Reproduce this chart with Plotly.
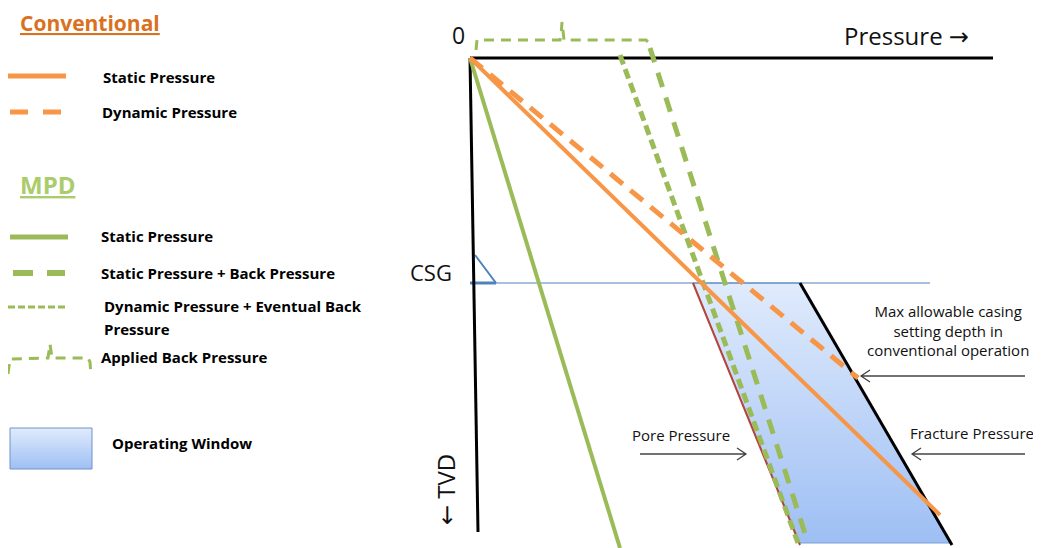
import plotly.graph_objects as go

# ---------------- data (pressure units vs. TVD units; origin = surface) ----------------
depth_csg = 225          # casing shoe depth
depth_td = 487           # total depth of the section
pore_pressure = [223, 330]        # at CSG, at TD
fracture_pressure = [330, 482]    # at CSG, at TD
conv_static = {"p": [0, 470], "d": [0, 457]}
conv_dynamic = {"p": [0, 388], "d": [0, 320]}
mpd_static = {"p": [0, 150], "d": [0, 490]}
mpd_static_bp = {"p": [150, 328], "d": [-3, 485]}
mpd_dynamic_bp = {"p": [180, 338], "d": [-10, 485]}
applied_bp = {"p": [6, 7, 90, 91, 92, 93, 94, 176, 179, 181],
              "d": [-8, -18, -18, -22, -36, -22, -18, -18, -15, -10]}
x_axis_end = 523
y_axis_end = {"p": 8, "d": 474}
csg_line_end = 460

ORANGE = "#f79646"
GREEN = "#9bbb59"
BLUE = "#4f81bd"
TXT = "Open Sans"
OX, OY = 470, 58   # pixel position of the origin on the canvas
PAGE = 8           # default page margin of the html body
W, H = 1041, 548


def P(px, py):
    return px - OX, py - OY


fig = go.Figure()


def line(p, d, color, width, dash="solid"):
    fig.add_trace(go.Scatter(x=p, y=d, mode="lines",
                             line=dict(color=color, width=width, dash=dash),
                             hoverinfo="skip"))


GRAD = [[0, "#9ebff4"], [1, "#e0ebfc"]]

# operating window
fig.add_trace(go.Scatter(
    x=[pore_pressure[0], fracture_pressure[0], fracture_pressure[1] - 2, pore_pressure[1], pore_pressure[0]],
    y=[depth_csg, depth_csg, depth_td - 2, depth_td - 2, depth_csg],
    mode="lines", fill="toself",
    fillgradient=dict(type="vertical", colorscale=GRAD),
    line=dict(color="#7d9fd0", width=1), hoverinfo="skip"))

# casing line
line([0, csg_line_end], [depth_csg, depth_csg], BLUE, 1)
# casing shoe symbol
tx, ty = P(475, 255)
bx, by = P(496, 283)
line([tx, bx], [ty, by], BLUE, 2)
line([0, bx], [by, by], BLUE, 3)

# pore & fracture
line(pore_pressure, [depth_csg, depth_td], "#b5433a", 2)
line(fracture_pressure, [depth_csg, depth_td], "black", 3)

# axes
line([0, x_axis_end], [0, 0], "black", 3)
line([0, y_axis_end["p"]], [0, y_axis_end["d"]], "black", 3)

# pressure profiles
line(mpd_static["p"], mpd_static["d"], GREEN, 4)
line(mpd_static_bp["p"], mpd_static_bp["d"], GREEN, 5, "10px,5px")
line(mpd_dynamic_bp["p"], mpd_dynamic_bp["d"], GREEN, 5, "15px,11px")
line(applied_bp["p"], applied_bp["d"], GREEN, 3, "10px,7px")
line(conv_static["p"], conv_static["d"], ORANGE, 4)
line(conv_dynamic["p"], conv_dynamic["d"], ORANGE, 5, "16px,10px")

# ---------------- legend (drawn on the same canvas) ----------------
def lline(x0, x1, y, color, width, dash="solid"):
    a, b = P(x0, y)
    c, _ = P(x1, y)
    line([a, c], [b, b], color, width, dash)


lline(8, 66, 76, ORANGE, 5)
lline(10, 62, 112, ORANGE, 5, "18px,15px")
lline(10, 68, 237, GREEN, 5)
lline(13, 65, 273, GREEN, 6, "20px,14px")
lline(8, 68, 307, GREEN, 3, "7px,3px")
ab_px = [8, 10, 48, 50, 52, 88, 90, 91]
ab_py = [374, 359, 358, 344, 358, 358, 362, 376]
abx, aby = zip(*[P(a, b) for a, b in zip(ab_px, ab_py)])
line(list(abx), list(aby), GREEN, 3, "10px,7px")
wx0, wy0 = P(10, 428)
wx1, wy1 = P(92, 469)
fig.add_trace(go.Scatter(x=[wx0, wx1, wx1, wx0, wx0], y=[wy0, wy0, wy1, wy1, wy0],
                         mode="lines", fill="toself",
                         fillgradient=dict(type="vertical", colorscale=GRAD),
                         line=dict(color="#6f93c8", width=1), hoverinfo="skip"))

ann = []


def text(px, py, s, size, color="black", bold=False, xanchor="left", font=TXT, angle=0):
    x, y = P(px, py)
    ann.append(dict(x=x, y=y, xref="x", yref="y", text=("<b>%s</b>" % s) if bold else s,
                    showarrow=False, xanchor=xanchor, yanchor="middle", textangle=angle,
                    font=dict(family=font, size=size, color=color)))


ARR_R = "<span style=\"font-family:'DejaVu Sans'\">→</span>"
ARR_L = "<span style=\"font-family:'DejaVu Sans'\">←</span>"

text(18, 23, "<u>Conventional</u>", 21, "#d9711f", True)
text(101, 77, "Static Pressure", 15, bold=True)
text(100, 112, "Dynamic Pressure", 15, bold=True)
text(18, 184, "<u>MPD</u>", 24, "#a9cc6c", True)
text(99, 236, "Static Pressure", 15, bold=True)
text(99, 273, "Static Pressure + Back Pressure", 15, bold=True)
text(102, 306, "Dynamic Pressure + Eventual Back", 15, bold=True)
text(102, 329, "Pressure", 15, bold=True)
text(99, 357, "Applied Back Pressure", 15, bold=True)
text(110, 443, "Operating Window", 15, bold=True)

# chart labels
text(450, 35, "0", 23, "#111")
text(842, 35, "Pressure " + ARR_R, 24, "#111")
text(408, 272, "CSG", 22, "#111")
text(445, 490, ARR_L + " TVD", 24, "#111", angle=-90, xanchor="center")
x, y = P(948, 330)
ann.append(dict(x=x, y=y, xref="x", yref="y", showarrow=False, align="center",
                text="Max allowable casing<br>setting depth in<br>conventional operation",
                font=dict(family=TXT, size=15, color="#111"), xanchor="center", yanchor="middle"))
text(630, 435, "Pore Pressure", 15, "#111")
text(908, 433, "Fracture Pressure", 15, "#111")
fig.update_layout(annotations=ann)

# arrows (open chevron heads)
shapes = []


def arrow(x0, x1, py):
    a, y = P(x0, py)
    b, _ = P(x1, py)
    s = 1 if b > a else -1
    path = f"M {a} {y} L {b} {y} M {b - s * 9} {y - 6} L {b} {y} L {b - s * 9} {y + 6}"
    shapes.append(dict(type="path", path=path, xref="x", yref="y",
                       line=dict(color="#444", width=1.3)))


arrow(1025, 861, 376)
arrow(640, 746, 454)
arrow(1025, 912, 454)
fig.update_layout(shapes=shapes)

fig.update_layout(
    width=W - PAGE, height=H - PAGE, margin=dict(l=0, r=0, t=0, b=0),
    paper_bgcolor="white", plot_bgcolor="white", showlegend=False,
    xaxis=dict(range=[PAGE - OX, W - OX], visible=False, fixedrange=True),
    yaxis=dict(range=[H - OY, PAGE - OY], visible=False, fixedrange=True),
)
fig.write_html("out.html")
